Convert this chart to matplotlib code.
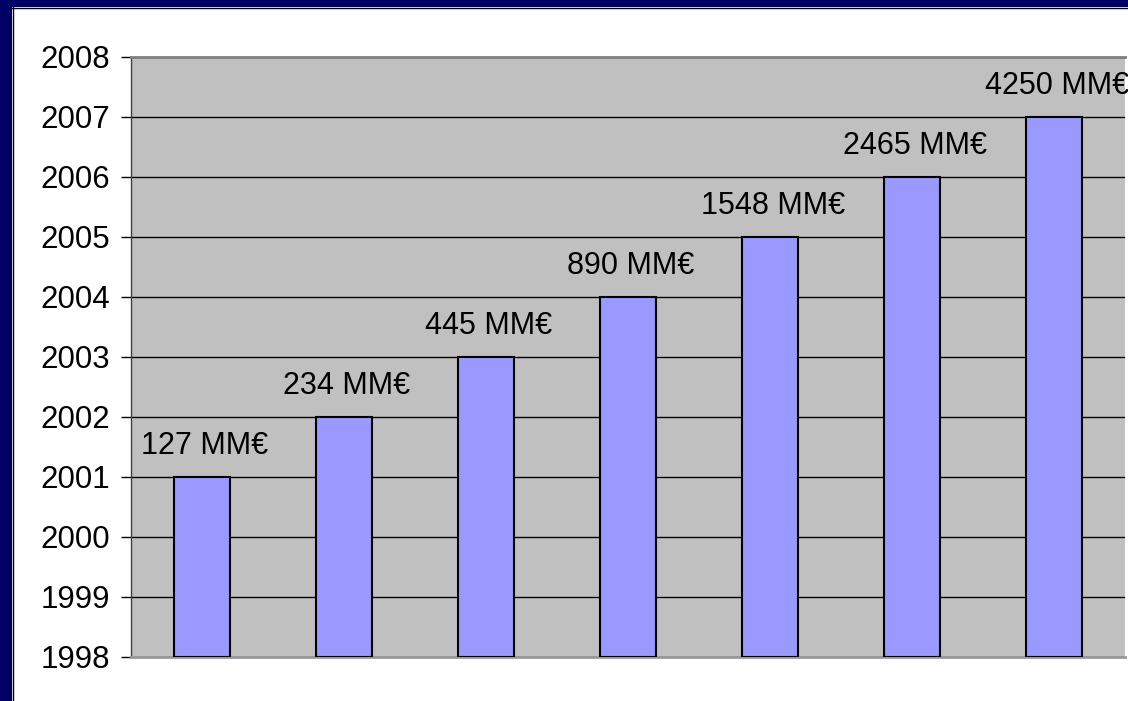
import numpy as np
import matplotlib.pyplot as plt
from matplotlib.patches import Rectangle

plt.rcParams['font.family'] = ['Liberation Sans', 'DejaVu Sans']

years = [2001, 2002, 2003, 2004, 2005, 2006, 2007]
amounts = [127, 234, 445, 890, 1548, 2465, 4250]
labels = [str(a) + " MM€" for a in amounts]
y_ticks = list(range(1998, 2009))

fig = plt.figure(figsize=(11.28, 7.01), dpi=100)
fig.patch.set_facecolor("white")

# navy frame on top and left
fig.patches.append(Rectangle((0, 1 - 7 / 701), 1, 7 / 701, transform=fig.transFigure,
                             facecolor="#000066", edgecolor="none", zorder=0))
fig.patches.append(Rectangle((0, 0), 12 / 1128, 1, transform=fig.transFigure,
                             facecolor="#000066", edgecolor="none", zorder=0))
fig.lines.append(plt.Line2D([12 / 1128, 1], [1 - 7.5 / 701, 1 - 7.5 / 701],
                            transform=fig.transFigure, color="black", lw=1))
fig.lines.append(plt.Line2D([12.5 / 1128, 12.5 / 1128], [0, 1 - 7 / 701],
                            transform=fig.transFigure, color="black", lw=1))

ax = fig.add_axes([131 / 1128, 44 / 701, 994 / 1128, 600 / 701])
ax.set_facecolor("#C0C0C0")

ind = np.arange(len(years))
base = y_ticks[0]
ax.bar(ind, np.array(years) - base, 0.4, bottom=base, color="#9999FF",
       edgecolor="black", linewidth=1.5, zorder=3)

for i, v in enumerate(years):
    ax.text(i + 0.02, v + 0.52, labels[i], ha="center", va="center", fontsize=22,
            color="black", clip_on=False)

ax.set_xlim(-0.5, len(years) - 0.5)
ax.set_ylim(y_ticks[0], y_ticks[-1])
ax.set_yticks(y_ticks)
ax.set_yticklabels([str(t) for t in y_ticks], fontsize=22.5)
ax.set_xticks([])
ax.yaxis.grid(True, color="black", linewidth=1, zorder=1)
ax.set_axisbelow(True)
ax.tick_params(axis="y", direction="out", length=7, width=1, pad=8, color="black")

ax.spines["top"].set_color("#808080")
ax.spines["top"].set_linewidth(2)
ax.spines["bottom"].set_color("#999999")
ax.spines["bottom"].set_linewidth(2)
ax.spines["left"].set_color("#404040")
ax.spines["left"].set_linewidth(1)
ax.spines["right"].set_visible(False)

plt.savefig("out.png", dpi=100)
